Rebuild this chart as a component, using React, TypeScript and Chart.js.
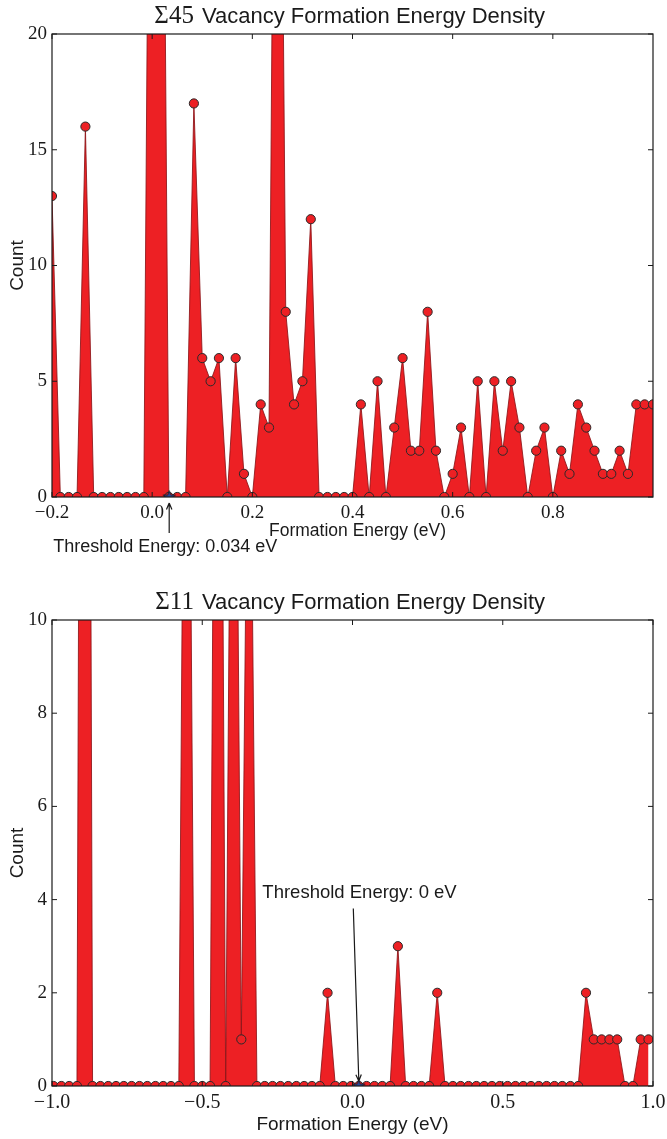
import React, { useEffect, useRef } from 'react';
import { Chart, registerables } from 'chart.js';
Chart.register(...registerables);

// ---------- Σ45 data ----------
const s45Energy = [
  -0.2, -0.1833, -0.1667, -0.15, -0.1333, -0.1167, -0.1, -0.0833, -0.0667, -0.05, -0.0333, -0.0167,
  0, 0.0167, 0.0333, 0.05, 0.0667, 0.0833, 0.1, 0.1167, 0.1333, 0.15, 0.1667, 0.1833,
  0.2, 0.2167, 0.2333, 0.25, 0.2667, 0.2833, 0.3, 0.3167, 0.3333, 0.35, 0.3667, 0.3833,
  0.4, 0.4167, 0.4333, 0.45, 0.4667, 0.4833, 0.5, 0.5167, 0.5333, 0.55, 0.5667, 0.5833,
  0.6, 0.6167, 0.6333, 0.65, 0.6667, 0.6833, 0.7, 0.7167, 0.7333, 0.75, 0.7667, 0.7833,
  0.8, 0.8167, 0.8333, 0.85, 0.8667, 0.8833, 0.9, 0.9167, 0.9333, 0.95, 0.9667, 0.9833, 1.0,
];
const s45Count = [
  13, 0, 0, 0, 16, 0, 0, 0, 0, 0, 0, 0,
  50, 48, 0, 0, 0, 17, 6, 5, 6, 0, 6, 1,
  0, 4, 3, 52, 8, 4, 5, 12, 0, 0, 0, 0,
  0, 4, 0, 5, 0, 3, 6, 2, 2, 8, 2, 0,
  1, 3, 0, 5, 0, 5, 2, 5, 3, 0, 2, 3,
  0, 2, 1, 4, 3, 2, 1, 1, 2, 1, 4, 4, 4,
];
const s45Threshold = [0.034];
const s45XTicks = [-0.2, 0.0, 0.2, 0.4, 0.6, 0.8];
const s45YTicks = [0, 5, 10, 15, 20];

// ---------- Σ11 data ----------
const s11Energy = [
  -0.995, -0.969, -0.943, -0.917, -0.891, -0.865, -0.839, -0.813, -0.787, -0.761,
  -0.735, -0.709, -0.683, -0.656, -0.630, -0.604, -0.578, -0.552, -0.526, -0.500,
  -0.474, -0.448, -0.422, -0.396, -0.370, -0.344, -0.318, -0.292, -0.266, -0.240,
  -0.214, -0.187, -0.161, -0.135, -0.109, -0.083, -0.057, -0.031, -0.005, 0.021,
  0.047, 0.073, 0.099, 0.125, 0.151, 0.177, 0.203, 0.229, 0.255, 0.282,
  0.308, 0.334, 0.360, 0.386, 0.412, 0.438, 0.464, 0.490, 0.516, 0.542,
  0.568, 0.594, 0.620, 0.646, 0.672, 0.698, 0.725, 0.751, 0.777, 0.803,
  0.829, 0.855, 0.881, 0.907, 0.933, 0.959, 0.985,
];
const s11Count = [
  0, 0, 0, 0, 50, 0, 0, 0, 0, 0,
  0, 0, 0, 0, 0, 0, 0, 24, 0, 0,
  0, 30, 0, 23, 1, 18, 0, 0, 0, 0,
  0, 0, 0, 0, 0, 2, 0, 0, 0, 0,
  0, 0, 0, 0, 3, 0, 0, 0, 0, 2,
  0, 0, 0, 0, 0, 0, 0, 0, 0, 0,
  0, 0, 0, 0, 0, 0, 0, 0, 2, 1,
  1, 1, 1, 0, 0, 1, 1,
];
const s11ThresholdLabel = [0];
const s11ThresholdPoint = [0.021];
const s11XTicks = [-1.0, -0.5, 0.0, 0.5, 1.0];
const s11YTicks = [0, 2, 4, 6, 8, 10];

const RED = '#ED2024';
const EDGE = 'rgba(140,20,24,0.85)';
const INK = '#1a1a1a';
const SANS = '"Liberation Sans", Arial, sans-serif';
const SERIF = '"Liberation Serif", "DejaVu Serif", serif';

const fmtX = (v: number) => {
  const s = Math.abs(v).toFixed(1);
  return v < -1e-9 ? '\u2212' + s : s;
};

function makeStar(): HTMLCanvasElement {
  const c = document.createElement('canvas');
  c.width = 15;
  c.height = 15;
  const g = c.getContext('2d')!;
  const cx = 7.5, cy = 7.8, R = 6.6, r = 2.7;
  g.beginPath();
  for (let i = 0; i < 10; i++) {
    const rad = i % 2 === 0 ? R : r;
    const a = -Math.PI / 2 + (i * Math.PI) / 5;
    const px = cx + rad * Math.cos(a);
    const py = cy + rad * Math.sin(a);
    if (i === 0) g.moveTo(px, py);
    else g.lineTo(px, py);
  }
  g.closePath();
  g.fillStyle = '#2b4aa0';
  g.fill();
  g.lineWidth = 0.8;
  g.strokeStyle = '#111';
  g.stroke();
  return c;
}

type PanelCfg = {
  energy: number[];
  count: number[];
  starX: number;
  xMin: number;
  xMax: number;
  yMax: number;
  xTicks: number[];
  yTicks: number[];
  titleSym: string;
  title: string;
  height: number;
  padTop: number;
  padBottom: number;
  tickFont: number;
  xLabelFont: number;
  xLabelCenterOffset: number;
  xLabelBaseline: number;
  yLabelFont: number;
  annot: (chart: any, starPx: number, starPy: number, ctx: CanvasRenderingContext2D) => void;
};

function Panel({ cfg }: { cfg: PanelCfg }) {
  const ref = useRef<HTMLCanvasElement>(null);
  useEffect(() => {
    const canvas = ref.current!;
    const star = makeStar();
    const decor = {
      id: 'decor',
      afterDraw(chart: any) {
        const ctx: CanvasRenderingContext2D = chart.ctx;
        const { left, right, top, bottom } = chart.chartArea;
        const xs = chart.scales.x;
        const ys = chart.scales.y;
        ctx.save();
        // frame
        ctx.strokeStyle = INK;
        ctx.lineWidth = 1.2;
        ctx.strokeRect(left, top, right - left, bottom - top);
        // inward ticks
        ctx.lineWidth = 1;
        ctx.beginPath();
        cfg.xTicks.forEach((v) => {
          const px = xs.getPixelForValue(v);
          ctx.moveTo(px, bottom);
          ctx.lineTo(px, bottom - 5);
          ctx.moveTo(px, top);
          ctx.lineTo(px, top + 5);
        });
        cfg.yTicks.forEach((v) => {
          const py = ys.getPixelForValue(v);
          ctx.moveTo(left, py);
          ctx.lineTo(left + 5, py);
          ctx.moveTo(right, py);
          ctx.lineTo(right - 5, py);
        });
        ctx.stroke();
        // title (symbol in serif, rest in sans)
        ctx.fillStyle = INK;
        ctx.textBaseline = 'alphabetic';
        const symFont = `25px ${SERIF}`;
        const txtFont = `22px ${SANS}`;
        ctx.font = txtFont;
        const wTxt = ctx.measureText(cfg.title).width;
        const sansStart = (left + right) / 2 + 21 - wTxt / 2;
        const ty = top - 11;
        ctx.textAlign = 'left';
        ctx.fillText(cfg.title, sansStart, ty);
        ctx.font = symFont;
        ctx.textAlign = 'right';
        ctx.fillText(cfg.titleSym, sansStart - 8, ty);
        // x label
        ctx.font = `${cfg.xLabelFont}px ${SANS}`;
        ctx.textAlign = 'center';
        ctx.fillText('Formation Energy (eV)', (left + right) / 2 + cfg.xLabelCenterOffset, bottom + cfg.xLabelBaseline);
        // y label
        ctx.save();
        ctx.translate(18, (top + bottom) / 2);
        ctx.rotate(-Math.PI / 2);
        ctx.font = `${cfg.yLabelFont}px ${SANS}`;
        ctx.textAlign = 'center';
        ctx.textBaseline = 'middle';
        ctx.fillText('Count', 0, 0);
        ctx.restore();
        // annotation
        const sx = xs.getPixelForValue(cfg.starX);
        const sy = ys.getPixelForValue(0);
        cfg.annot(chart, sx, sy, ctx);
        ctx.restore();
      },
    };
    const chart = new Chart(canvas, {
      type: 'line',
      data: {
        datasets: [
          {
            data: [{ x: cfg.starX, y: 0 }],
            showLine: false,
            pointStyle: star as any,
            pointRadius: 7,
            clip: 0 as any,
          },
          {
            data: cfg.energy.map((e, i) => ({ x: e, y: cfg.count[i] })),
            fill: 'origin',
            backgroundColor: RED,
            borderColor: EDGE,
            borderWidth: 1,
            tension: 0,
            pointRadius: 4.6,
            pointBackgroundColor: RED,
            pointBorderColor: '#2a2a2a',
            pointBorderWidth: 1,
            clip: 0 as any,
          },
        ],
      },
      options: {
        responsive: false,
        animation: false,
        events: [],
        layout: { autoPadding: false, padding: { top: cfg.padTop, right: 14, bottom: cfg.padBottom, left: 0 } },
        plugins: { legend: { display: false }, tooltip: { enabled: false } },
        scales: {
          x: {
            type: 'linear',
            min: cfg.xMin,
            max: cfg.xMax,
            afterBuildTicks: (s: any) => {
              s.ticks = cfg.xTicks.map((v) => ({ value: v }));
            },
            afterFit: (s: any) => {
              s.height = 30;
              s.paddingLeft = 0;
              s.paddingRight = 0;
            },
            ticks: {
              autoSkip: false,
              maxRotation: 0,
              padding: 5,
              color: INK,
              font: { family: SERIF, size: cfg.tickFont },
              callback: (v: any) => fmtX(Number(v)),
            },
            grid: { display: false, drawTicks: false },
            border: { display: false },
          },
          y: {
            type: 'linear',
            min: 0,
            max: cfg.yMax,
            afterBuildTicks: (s: any) => {
              s.ticks = cfg.yTicks.map((v) => ({ value: v }));
            },
            afterFit: (s: any) => {
              s.width = 52;
              s.paddingTop = 0;
              s.paddingBottom = 0;
            },
            ticks: {
              padding: 5,
              color: INK,
              font: { family: SERIF, size: 19 },
              callback: (v: any) => String(v),
            },
            grid: { display: false, drawTicks: false },
            border: { display: false },
          },
        },
      },
      plugins: [decor],
    } as any);
    return () => chart.destroy();
  }, []);
  return (
    <canvas
      ref={ref}
      width={667}
      height={cfg.height}
      style={{ display: 'block', width: 667, height: cfg.height }}
    />
  );
}

const arrowHead = (ctx: CanvasRenderingContext2D, x0: number, y0: number, x1: number, y1: number) => {
  ctx.beginPath();
  ctx.moveTo(x0, y0);
  ctx.lineTo(x1, y1);
  const a = Math.atan2(y1 - y0, x1 - x0);
  const L = 7;
  ctx.moveTo(x1, y1);
  ctx.lineTo(x1 - L * Math.cos(a - 0.4), y1 - L * Math.sin(a - 0.4));
  ctx.moveTo(x1, y1);
  ctx.lineTo(x1 - L * Math.cos(a + 0.4), y1 - L * Math.sin(a + 0.4));
  ctx.strokeStyle = INK;
  ctx.lineWidth = 1.2;
  ctx.stroke();
};

const topCfg: PanelCfg = {
  energy: s45Energy,
  count: s45Count,
  starX: s45Threshold[0],
  xMin: -0.2,
  xMax: 1.0,
  yMax: 20,
  xTicks: s45XTicks,
  yTicks: s45YTicks,
  titleSym: '\u03A345',
  title: 'Vacancy Formation Energy Density',
  height: 570,
  padTop: 34,
  padBottom: 570 - 497 - 30,
  tickFont: 19,
  xLabelFont: 17.5,
  xLabelCenterOffset: 5,
  xLabelBaseline: 39,
  yLabelFont: 19,
  annot: (chart, sx, sy, ctx) => {
    ctx.font = `18px ${SANS}`;
    ctx.textAlign = 'left';
    ctx.textBaseline = 'alphabetic';
    ctx.fillStyle = INK;
    ctx.fillText(`Threshold Energy: ${s45Threshold[0]} eV`, sx - 116, sy + 55);
    arrowHead(ctx, sx, sy + 36, sx, sy + 6);
  },
};

const botCfg: PanelCfg = {
  energy: s11Energy,
  count: s11Count,
  starX: s11ThresholdPoint[0],
  xMin: -1.0,
  xMax: 1.0,
  yMax: 10,
  xTicks: s11XTicks,
  yTicks: s11YTicks,
  titleSym: '\u03A311',
  title: 'Vacancy Formation Energy Density',
  height: 569,
  padTop: 50,
  padBottom: 569 - 516 - 30,
  tickFont: 20,
  xLabelFont: 19,
  xLabelCenterOffset: 0,
  xLabelBaseline: 44,
  yLabelFont: 19,
  annot: (chart, sx, sy, ctx) => {
    const xs = chart.scales.x;
    const ys = chart.scales.y;
    const tx = xs.getPixelForValue(-0.3);
    const tb = ys.getPixelForValue(4.0) - 2;
    ctx.font = `18.5px ${SANS}`;
    ctx.textAlign = 'left';
    ctx.textBaseline = 'alphabetic';
    ctx.fillStyle = INK;
    ctx.fillText(`Threshold Energy: ${s11ThresholdLabel[0]} eV`, tx, tb);
    arrowHead(ctx, sx - 5.5, tb + 11, sx, sy - 5);
  },
};

export default function App() {
  return (
    <div style={{ position: 'absolute', left: 0, top: 0, width: 667, height: 1139, background: '#fff' }}>
      <Panel cfg={topCfg} />
      <Panel cfg={botCfg} />
    </div>
  );
}
